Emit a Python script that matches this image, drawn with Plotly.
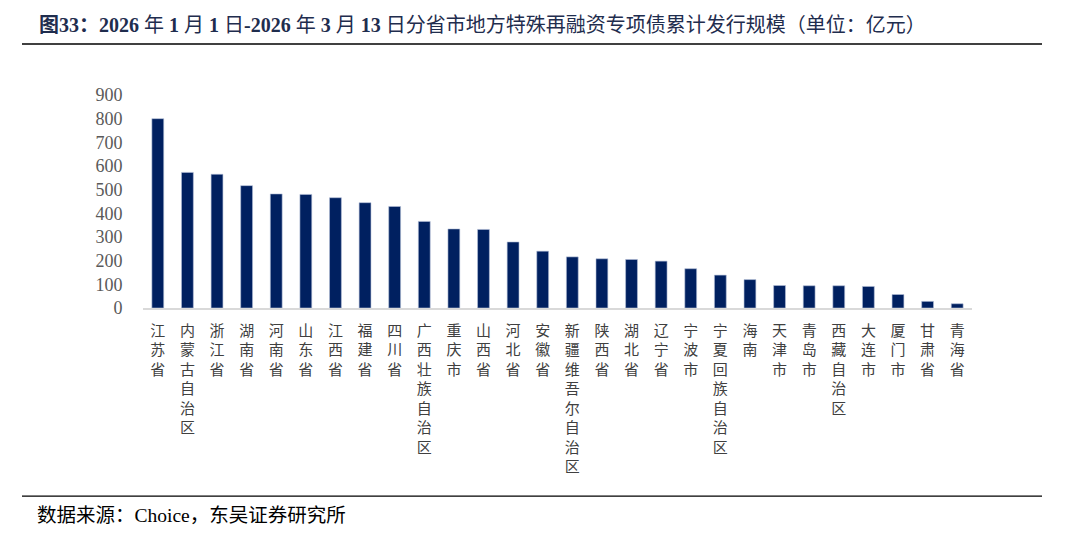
import plotly.graph_objects as go

categories = ["江苏省", "内蒙古自治区", "浙江省", "湖南省", "河南省", "山东省", "江西省", "福建省",
              "四川省", "广西壮族自治区", "重庆市", "山西省", "河北省", "安徽省", "新疆维吾尔自治区",
              "陕西省", "湖北省", "辽宁省", "宁波市", "宁夏回族自治区", "海南", "天津市", "青岛市",
              "西藏自治区", "大连市", "厦门市", "甘肃省", "青海省"]
values = [800, 573, 565, 517, 482, 480, 466, 445, 429, 366, 334, 332, 279, 240, 216,
          208, 205, 198, 166, 139, 120, 95, 94, 94, 91, 57, 28, 18]
y_ticks = [0, 100, 200, 300, 400, 500, 600, 700, 800, 900]

title_html = ("<b>图33：2026</b> 年 <b>1</b> 月 <b>1</b> 日<b>-2026</b> 年 <b>3</b> 月 <b>13</b> 日"
              "分省市地方特殊再融资专项债累计发行规模（单位：亿元）")
source_text = "数据来源：Choice，东吴证券研究所"

tick_text = ["<br>".join(list(c)) for c in categories]

fig = go.Figure(go.Bar(
    x=categories, y=values,
    marker=dict(color="#002060", line=dict(color="#B4C0D8", width=0.6)),
    hoverinfo="x+y",
))

W, H = 1075, 544
left, right, top, bottom = 143, 972, 95, 308.5

def px_x(x):
    return (x - left) / (right - left)

def px_y(y):
    return (bottom - y) / (bottom - top)

fig.update_layout(
    width=W, height=H,
    margin=dict(l=left, r=W - right, t=top, b=H - bottom, pad=0),
    paper_bgcolor="white", plot_bgcolor="white",
    bargap=0.6,
    showlegend=False,
    xaxis=dict(
        type="category",
        tickmode="array", tickvals=categories, ticktext=tick_text,
        tickangle=0,
        tickfont=dict(family="Noto Sans CJK SC", size=15, color="#404040"),
        showline=True, linecolor="#D9D9D9", linewidth=1.5,
        showgrid=False, zeroline=False,
        ticks="outside", ticklen=8, tickcolor="rgba(0,0,0,0)",
        range=[-0.5, len(categories) - 0.5],
    ),
    yaxis=dict(
        range=[0, 900],
        tickmode="array", tickvals=y_ticks, ticktext=[str(v) for v in y_ticks],
        tickfont=dict(family="Liberation Serif", size=18, color="#595959"),
        showline=False, showgrid=False, zeroline=False,
        ticks="outside", ticklen=16, tickcolor="rgba(0,0,0,0)",
    ),
    annotations=[
        dict(text=title_html, xref="paper", yref="paper",
             x=px_x(37), y=px_y(25),
             xanchor="left", yanchor="middle", showarrow=False,
             font=dict(family="Liberation Serif, Noto Sans CJK SC", size=20, color="#1F2D4E")),
        dict(text=source_text, xref="paper", yref="paper",
             x=px_x(35), y=px_y(516),
             xanchor="left", yanchor="middle", showarrow=False,
             font=dict(family="Liberation Serif, Noto Sans CJK SC", size=19.5, color="#000000")),
    ],
    shapes=[
        dict(type="line", xref="paper", yref="paper",
             x0=px_x(22), x1=px_x(1042), y0=px_y(44), y1=px_y(44),
             line=dict(color="#000000", width=1.5)),
        dict(type="line", xref="paper", yref="paper",
             x0=px_x(22), x1=px_x(1042), y0=px_y(497), y1=px_y(497),
             line=dict(color="#000000", width=1.2)),
    ],
)

fig.write_html("out.html", config={"displayModeBar": False},
               post_script="document.body.style.margin='0';")
